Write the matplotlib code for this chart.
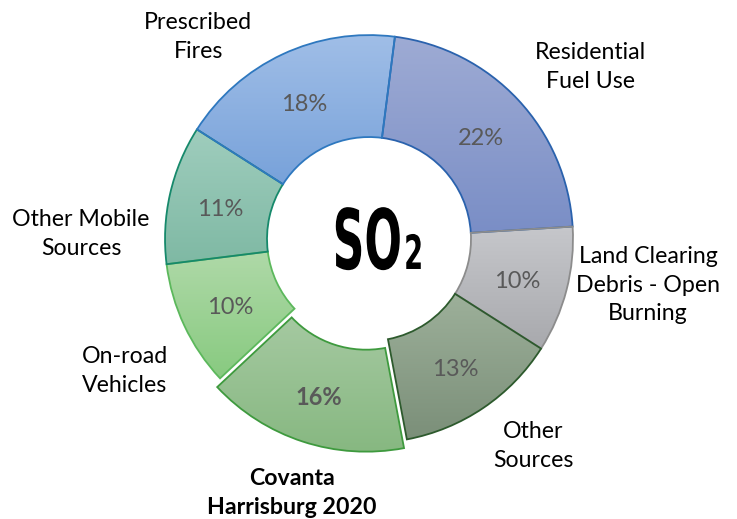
import numpy as np
import matplotlib
matplotlib.use("Agg")
import matplotlib.pyplot as plt
import matplotlib.colors as mcolors
from matplotlib.patheffects import AbstractPathEffect
from matplotlib.transforms import Affine2D

# ---- data ----
categories = ["Residential\nFuel Use", "Land Clearing\nDebris - Open\nBurning", "Other\nSources",
              "Covanta\nHarrisburg 2020", "On-road\nVehicles", "Other Mobile\nSources",
              "Prescribed\nFires"]
values = [22, 10, 13, 16, 10, 11, 18]
pct_labels = ["22%", "10%", "13%", "16%", "10%", "11%", "18%"]
center_title = "SO"
center_sub = "2"

# ---- style ----
top_colors = ["#9eabd4", "#c6c7cb", "#9db09a", "#a5c9a1", "#afd9a8", "#9fcdbd", "#a0bee7"]
bot_colors = ["#7a8ec6", "#a8a9ad", "#7b8f79", "#87b881", "#88ca80", "#7fb9a4", "#78a2da"]
edge_colors = ["#2a62ad", "#8c8c8c", "#2d5a2d", "#3e9a3e", "#5cb85c", "#16896b", "#2e78bf"]
explode = [0, 0, 0, 0.045, 0, 0, 0]
highlight = [False, False, False, True, False, False, False]
# label placement: (angle offset deg, radius factor)
label_adj = [(-5.2, 1.373), (5.1, 1.386), (4.3, 1.295), (1.2, 1.301), (3.3, 1.36), (11.7, 1.412), (15.15, 1.297)]

FONT = ["Lato", "DejaVu Sans"]


class Squeeze(AbstractPathEffect):
    """Horizontally condense glyphs about an anchor x (data coords)."""

    def __init__(self, ax, x0, sx):
        super().__init__()
        self.ax, self.x0, self.sx = ax, x0, sx

    def draw_path(self, renderer, gc, tpath, affine, rgbFace=None):
        cx = self.ax.transData.transform((self.x0, 0))[0]
        aff = affine + Affine2D().translate(-cx, 0).scale(self.sx, 1).translate(cx, 0)
        renderer.draw_path(gc, tpath, aff, rgbFace)


fig = plt.figure(figsize=(7.37, 5.19), dpi=100)
ax = fig.add_axes([0, 0, 1, 1])
ax.axis("off")

start = 82.7
wedges, _ = ax.pie(values, startangle=start, counterclock=False, radius=1.0,
                   explode=explode, wedgeprops=dict(width=0.5, linewidth=1.3),
                   colors=["none"] * len(values))
ax.set_xlim(-1.809, 1.804)
ax.set_ylim(-1.373, 1.172)

for i, w in enumerate(wedges):
    w.set_facecolor("none")
    w.set_edgecolor(edge_colors[i])
    w.set_zorder(3)
    bb = w.get_path().get_extents(w.get_patch_transform())
    c1 = np.array(mcolors.to_rgb(top_colors[i]))
    c2 = np.array(mcolors.to_rgb(bot_colors[i]))
    t = np.linspace(0, 1, 100)[:, None]
    grad = (c1[None, :] * (1 - t) + c2[None, :] * t)[:, None, :]
    grad = np.repeat(grad, 2, axis=1)
    im = ax.imshow(grad, extent=[bb.x0, bb.x1, bb.y0, bb.y1], origin="upper",
                   aspect="auto", zorder=2, interpolation="bilinear")
    im.set_clip_path(w)

ax.set_xlim(-1.809, 1.804)
ax.set_ylim(-1.373, 1.172)

cum = 0
for i, v in enumerate(values):
    a0 = start - cum * 3.6
    a1 = start - (cum + v) * 3.6
    mid = np.deg2rad((a0 + a1) / 2)
    cum += v
    r = 0.75 + explode[i]
    ax.text(r * np.cos(mid), r * np.sin(mid) - 0.02, pct_labels[i], ha="center", va="center",
            fontsize=17, color="#595959", family=FONT,
            fontweight="bold" if highlight[i] else "normal", zorder=5)
    da, rf = label_adj[i]
    la = mid + np.deg2rad(da)
    ax.text(rf * np.cos(la), rf * np.sin(la), categories[i], ha="center", va="center",
            fontsize=16.7, color="black", family=FONT, linespacing=1.45,
            fontweight="bold" if highlight[i] else "normal", zorder=5)

# center title (condensed heavy look)
x_so, x_sub, y_base = 0.162, 0.172, -0.147
ax.text(x_so, y_base, center_title, ha="right", va="baseline", fontsize=60, fontweight="bold",
        family="DejaVu Sans", color="black", zorder=6,
        path_effects=[Squeeze(ax, x_so, 0.53)])
ax.text(x_sub, y_base, center_sub, ha="left", va="baseline", fontsize=34, fontweight="bold",
        family="DejaVu Sans", color="black", zorder=6,
        path_effects=[Squeeze(ax, x_sub, 0.58)])

fig.savefig("out.png", dpi=100)
